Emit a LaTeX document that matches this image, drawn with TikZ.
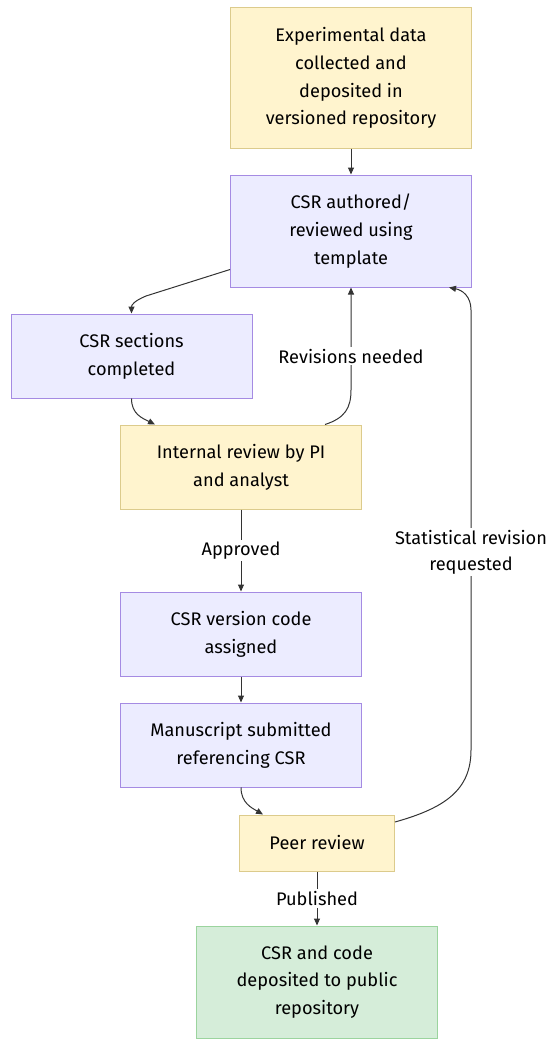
\documentclass[tikz,border=0pt]{standalone}
\usepackage{fontspec}
\setmainfont{Fira Sans}
\usetikzlibrary{arrows.meta, positioning}

\definecolor{yelfill}{HTML}{FFF4CE}
\definecolor{yeldraw}{HTML}{DCCB8C}
\definecolor{lavfill}{HTML}{ECECFF}
\definecolor{lavdraw}{HTML}{A58BE3}
\definecolor{grnfill}{HTML}{D5EDD9}
\definecolor{grndraw}{HTML}{9BD49E}
\definecolor{edge}{HTML}{333333}

\begin{document}
\begin{tikzpicture}[
      x=1pt, y=-1pt,
      base/.style={rectangle, line width=1pt, align=center, text=black, inner sep=0pt, font=\fontsize{18.2}{27.7}\selectfont},
      yelbox/.style={base, draw=yeldraw, fill=yelfill, minimum width=241pt},
      lavbox/.style={base, draw=lavdraw, fill=lavfill, minimum width=241pt},
      grnbox/.style={base, draw=grndraw, fill=grnfill, minimum width=241pt},
      arr/.style={draw=edge, line width=1pt, -{Triangle[length=7pt, width=6pt]}},
      lbl/.style={fill=white, inner sep=2pt, text=black, font=\fontsize{18.2}{26}\selectfont, align=center},
    ]
      \useasboundingbox (0,0) rectangle (550,1049);
      \node[yelbox, minimum height=140pt] (data) at (351,78) {Experimental data\\collected and\\deposited in\\versioned repository};
      \node[lavbox, minimum height=112pt] (auth) at (351,231) {CSR authored/\\reviewed using\\template};
      \node[lavbox, minimum height=84pt] (sect) at (131.5,356) {CSR sections\\completed};
      \node[yelbox, minimum height=84pt] (intrev) at (241,467) {Internal review by PI\\and analyst};
      \node[lavbox, minimum height=84pt] (vcode) at (241,634) {CSR version code\\assigned};
      \node[lavbox, minimum height=84pt] (manu) at (241,745) {Manuscript submitted\\referencing CSR};
      \node[yelbox, minimum width=155pt, minimum height=56pt] (peer) at (317,843) {Peer review};
      \node[grnbox, minimum height=112pt] (pub) at (317,982) {CSR and code\\deposited to public\\repository};

      \draw[arr] (data) -- (auth);
      \draw[arr] ([yshift=18pt]auth.south west) -- (146,296) .. controls (134,301) and (131.5,305) .. (sect.north);
      \draw[arr] (sect.south) .. controls (131.5,414) and (142,418) .. ([xshift=-86pt]intrev.north);
      \draw[arr] ([xshift=84pt]intrev.north) .. controls (345,418) and (351,408) .. (351,390)
        -- node[lbl, pos=0.33] {Revisions needed} (auth.south);
      \draw[arr] (intrev) -- node[lbl] {Approved} (vcode);
      \draw[arr] (vcode) -- (manu);
      \draw[arr] (manu.south) .. controls (241,803) and (252,808) .. ([xshift=-54pt]peer.north);
      \draw[arr] ([yshift=21pt]peer.east) .. controls (445,808) and (471,790) .. (471,750)
        -- node[lbl, pos=0.45] {Statistical revision\\requested} (471,310)
        .. controls (471,296) and (462,290) .. ([xshift=98pt]auth.south);
      \draw[arr] (peer) -- node[lbl] {Published} (pub);
    \end{tikzpicture}
\end{document}
